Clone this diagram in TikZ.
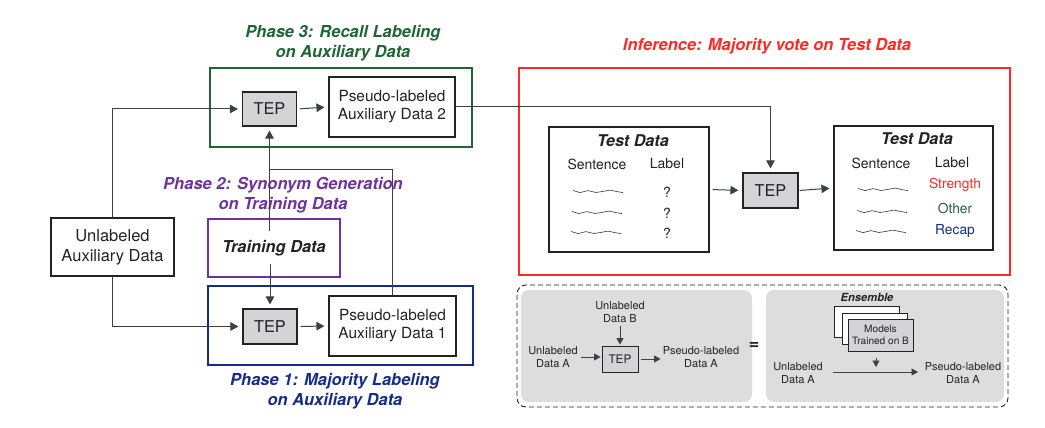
\documentclass[tikz,border=0pt]{standalone}
\usepackage{fontspec}
\setmainfont{TeX Gyre Heros}
\usetikzlibrary{arrows.meta,calc}
\definecolor{lc}{RGB}{62,64,66}
\definecolor{tc}{RGB}{35,35,35}
\definecolor{pgreen}{RGB}{30,102,52}
\definecolor{ppurple}{RGB}{112,50,158}
\definecolor{pblue}{RGB}{22,44,140}
\definecolor{pred}{RGB}{255,40,35}
\definecolor{tepfill}{RGB}{212,212,214}
\definecolor{lgfill}{RGB}{221,221,221}
\begin{document}
\begin{tikzpicture}[x=1pt,y=-1pt,
  box/.style={draw=tc,line width=1.1pt,fill=white,inner sep=0pt,align=center,text=tc},
  tepbox/.style={box,fill=tepfill},
  frame/.style={draw,line width=1.8pt,inner sep=0pt},
  arr/.style={draw=lc,line width=1pt,-{Triangle[length=8pt,width=8.5pt]},shorten >=4pt},
  sarr/.style={draw=lc,line width=0.9pt,-{Triangle[length=6.5pt,width=7pt]}},
  plain/.style={draw=lc,line width=1pt},
  ttl/.style={font=\fontsize{16.5}{20}\selectfont\bfseries\itshape,align=center,inner sep=0pt},
  txt/.style={text=tc,inner sep=0pt,align=center},
  sq/.style={draw=tc!85,line width=0.65pt},
  squig/.pic={\draw[sq] (0,-0.5) -- (7,1.6) -- (15,-0.4) -- (23,1.5) -- (30,0.4) -- (37,-0.9) -- (44,0.6) -- (50,1.6);}
]
\useasboundingbox (0,0) rectangle (1045,428);

% ---------- left part ----------
\node[frame,draw=pgreen,minimum width=262pt,minimum height=79pt] (f3) at (341,107.5) {};
\node[frame,draw=pblue,minimum width=265pt,minimum height=79pt] (f1) at (340.5,325.5) {};

\node[ttl,text=pgreen] (t3) at (343,43) {Phase 3: Recall Labeling\\on Auxiliary Data};
\node[ttl,text=ppurple] (t2) at (283,195) {Phase 2: Synonym Generation\\on Training Data};
\node[ttl,text=pblue] (t1) at (335,391) {Phase 1: Majority Labeling\\on Auxiliary Data};

\node[box,minimum width=123pt,minimum height=58pt,font=\fontsize{16.5}{20}\selectfont] (unl) at (112.5,247) {Unlabeled\\Auxiliary Data};
\node[tepbox,minimum width=54pt,minimum height=34pt,font=\fontsize{16.3}{19}\selectfont] (tep3) at (269.5,109) {TEP};
\node[box,minimum width=126pt,minimum height=60pt,font=\fontsize{15.4}{18}\selectfont] (pl2) at (392,107) {Pseudo-labeled\\Auxiliary Data 2};
\node[box,draw=ppurple,line width=1.4pt,minimum width=132pt,minimum height=58pt,font=\fontsize{16.4}{20}\selectfont\bfseries\itshape] (train) at (274,248) {Training Data};
\node[tepbox,minimum width=54pt,minimum height=35pt,font=\fontsize{16.3}{19}\selectfont] (tep1) at (270,326.5) {TEP};
\node[box,minimum width=127pt,minimum height=60pt,font=\fontsize{15.4}{18}\selectfont] (pl1) at (392.5,326) {Pseudo-labeled\\Auxiliary Data 1};

\coordinate (j) at (tep3.south |- 0,169);
\draw[arr] (unl.north) |- (tep3.west);
\draw[arr] (unl.south) |- (tep1.west);
\draw[arr,shorten <=3pt] (tep3.east) -- (pl2.west);
\draw[arr,shorten <=3pt] (tep1.east) -- (pl1.west);
\draw[arr] ([yshift=14pt]tep1.north |- train.south) -- (tep1.north);
\draw[arr] ([yshift=-13pt]tep3.south |- train.north) -- (tep3.south);
\draw[plain] (pl1.north) |- (j);

% ---------- inference ----------
\node[frame,draw=pred,minimum width=491pt,minimum height=207pt] (fi) at (764.5,171.5) {};
\node[ttl,text=pred] (ti) at (767,46) {Inference: Majority vote on Test Data};

\node[box,minimum width=160pt,minimum height=125pt] (test1) at (629,189.5) {};
\node[tepbox,minimum width=55pt,minimum height=35pt,font=\fontsize{16.3}{19}\selectfont] (tepi) at (770.5,190.5) {TEP};
\node[box,minimum width=159pt,minimum height=124pt] (test2) at (913.5,188) {};

\node[txt,font=\fontsize{16.2}{19}\selectfont\bfseries\itshape] (td1) at (633,141) {Test Data};
\node[txt,font=\fontsize{14}{16}\selectfont] (s1) at (597,164) {Sentence};
\node[txt,font=\fontsize{14}{16}\selectfont] (l1) at (667,164) {Label};
\node[txt,font=\fontsize{14}{16}\selectfont] (q1) at (667,192) {?};
\node[txt,font=\fontsize{14}{16}\selectfont] (q2) at (667,213) {?};
\node[txt,font=\fontsize{14}{16}\selectfont] (q3) at (667,233) {?};
\pic at (573,191) {squig};
\pic at (572,212) {squig};
\pic at (571,232) {squig};

\node[txt,font=\fontsize{16.2}{19}\selectfont\bfseries\itshape] (td2) at (917,139) {Test Data};
\node[txt,font=\fontsize{14}{16}\selectfont] (s2) at (881,163) {Sentence};
\node[txt,font=\fontsize{14}{16}\selectfont] (l2) at (952,163) {Label};
\node[txt,text=pred,font=\fontsize{13.8}{16}\selectfont] (c1) at (955,185) {Strength};
\node[txt,text=pgreen,font=\fontsize{13.8}{16}\selectfont] (c2) at (955,208) {Other};
\node[txt,text=pblue,font=\fontsize{13.8}{16}\selectfont] (c3) at (955,231) {Recap};
\pic at (858,189) {squig};
\pic at (857,211) {squig};
\pic at (856,231) {squig};

\draw[arr] (pl2.east) -| (tepi.north);
\draw[arr,shorten <=3pt] (test1.east) -- (tepi.west);
\draw[arr,shorten <=1pt] (tepi.east) -- (test2.west);

% ---------- legend ----------
\node[draw=tc,line width=0.9pt,dash pattern=on 5pt off 3pt,rounded corners=9pt,minimum width=491pt,minimum height=122pt,inner sep=0pt] (lg) at (762.5,346) {};
\node[fill=lgfill,rounded corners=8pt,minimum width=231pt,minimum height=112pt,inner sep=0pt] (lg1) at (636.5,346) {};
\node[fill=lgfill,rounded corners=8pt,minimum width=238pt,minimum height=112pt,inner sep=0pt] (lg2) at (885,346) {};

\tikzset{sm/.style={txt,font=\fontsize{11}{13}\selectfont}}
\node[sm] (udb) at (620,312) {Unlabeled\\Data B};
\node[tepbox,line width=0.9pt,minimum width=36pt,minimum height=26pt,font=\fontsize{11.8}{13}\selectfont] (ltep) at (620,359) {TEP};
\node[sm] (uda) at (553,357) {Unlabeled\\Data A};
\node[sm] (pda) at (701,357) {Pseudo-labeled\\Data A};
\draw[sarr,shorten <=3pt,shorten >=1pt] (udb.south) -- (ltep.north);
\draw[sarr,shorten <=3pt,shorten >=1pt] (uda.east) -- (uda.east -| ltep.west);
\draw[sarr,shorten <=3pt,shorten >=2pt] (ltep.east) -- (ltep.east -| pda.west);

\node[txt,font=\fontsize{18}{20}\selectfont\bfseries] (eq) at (754,346) {=};

\node[txt,font=\fontsize{11.2}{13}\selectfont\bfseries\itshape] (ens) at (867,297) {Ensemble};
\node[box,line width=0.9pt,minimum width=65pt,minimum height=31pt] (m1) at (866.5,321.5) {};
\node[box,line width=0.9pt,minimum width=65pt,minimum height=31pt] (m2) at (874.5,328.5) {};
\node[tepbox,line width=1pt,minimum width=65pt,minimum height=32pt,font=\fontsize{10.1}{12.5}\selectfont] (m3) at (880.5,335) {Models\\Trained on B};

\node[sm] (uda2) at (798,373) {Unlabeled\\Data A};
\node[sm] (pda2) at (963,373) {Pseudo-labeled\\Data A};
\coordinate (hs) at (833,372);
\coordinate (he) at (922,372);
\draw[sarr,shorten >=4pt] (hs) -- (he);
\draw[sarr,shorten <=6pt,shorten >=5pt] (m3.south -| 876,0) -- (876,372);
\end{tikzpicture}
\end{document}
